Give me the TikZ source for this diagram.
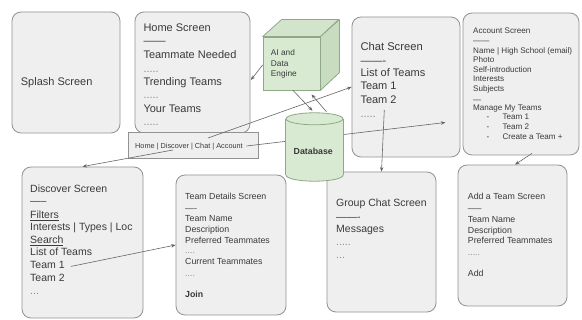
\documentclass[tikz,border=0pt]{standalone}
\usepackage{fontspec}
\setmainfont{Liberation Sans}
\usetikzlibrary{arrows.meta,calc}
\definecolor{boxfill}{HTML}{EFEFEF}
\definecolor{boxline}{HTML}{929292}
\definecolor{gfill}{HTML}{D9EAD3}
\definecolor{gtop}{HTML}{D2E4CB}
\definecolor{gside}{HTML}{C8DCC0}
\definecolor{gline}{HTML}{8FA888}
\definecolor{txt}{HTML}{3A3A3A}
\definecolor{dotc}{HTML}{8A8A8A}
\definecolor{arr}{HTML}{666666}
\newcommand\fsz[1]{\fontsize{#1}{#1}\selectfont}
\begin{document}
\begin{tikzpicture}[x=1pt,y=-1pt,
  screen/.style={draw=boxline, fill=boxfill, line width=0.8pt, rounded corners=9pt, inner sep=0pt},
  navbar/.style={draw=boxline, fill=boxfill, line width=0.8pt, inner sep=0pt},
  aiface/.style={draw=gline, fill=gfill, line width=0.8pt, inner sep=0pt},
  lbl/.style={inner sep=0pt, anchor=base west, text=txt},
  dotl/.style={inner sep=0pt, anchor=base west, text=dotc},
  conn/.style={draw=arr, line width=0.6pt, -{Stealth[length=4.5pt,width=3.5pt]}},
  dbline/.style={draw=gline, line width=0.8pt}
]
\fill[white] (0,0) rectangle (582,320);
\useasboundingbox (0,0) rectangle (582,320);

% screens
\node[screen, minimum width=108pt, minimum height=121pt] (splash) at (66,72.5) {};
\node[screen, minimum width=115pt, minimum height=121pt] (home) at (192.5,72.5) {};
\node[screen, minimum width=108pt, minimum height=140pt] (chat) at (406,87) {};
\node[screen, minimum width=116pt, minimum height=142pt] (account) at (521,84) {};
\node[screen, minimum width=121pt, minimum height=151pt] (discover) at (82.5,242.5) {};
\node[screen, minimum width=110pt, minimum height=140pt] (details) at (231,245) {};
\node[screen, minimum width=109pt, minimum height=140pt] (group) at (381.5,242) {};
\node[screen, minimum width=109pt, minimum height=141pt] (addteam) at (512.5,235.5) {};
\node[navbar, minimum width=130pt, minimum height=26pt] (nav) at (193,145) {};

% cube
\node[aiface, minimum width=57pt, minimum height=53pt] (ai) at (291.5,63.5) {};
\filldraw[draw=gline, fill=gtop, line width=0.8pt, line join=round] (ai.north west) -- ++(19,-17) -- ++(57,0) -- (ai.north east) -- cycle;
\filldraw[draw=gline, fill=gside, line width=0.8pt, line join=round] (ai.north east) -- ++(19,-17) -- ++(0,53) -- (ai.south east) -- cycle;
\node[lbl, font=\fsz{8.3}] (ai1) at (270.7,56) {AI and};
\node[lbl, font=\fsz{8.3}] (ai2) at (270.7,66.7) {Data};
\node[lbl, font=\fsz{8.3}] (ai3) at (270.7,76.7) {Engine};

% database placeholder
\node[inner sep=0pt, minimum width=57pt, minimum height=68pt] (db) at (314.5,147) {};

% splash
\node[lbl, font=\fsz{11}] (splasht) at (20.7,86) {Splash Screen};

% home
\node[lbl, font=\fsz{11}] (h1) at (143.3,32) {Home Screen};
\node[lbl, font=\fsz{11}] (hs) at (143.3,45) {------};
\node[lbl, font=\fsz{11}] (h2) at (143.3,59) {Teammate Needed};
\node[dotl, font=\fsz{11}] (hd1) at (143.3,72.5) {.....};
\node[lbl, font=\fsz{11}] (h3) at (143.3,86) {Trending Teams};
\node[dotl, font=\fsz{11}] (hd2) at (143.3,99) {.....};
\node[lbl, font=\fsz{11}] (h4) at (143.3,113) {Your Teams};
\node[dotl, font=\fsz{11}] (hd3) at (143.3,125.5) {.....};
\node[lbl, font=\fsz{7.3}] (navt) at (135,149) {Home | Discover | Chat | Account};

% chat
\node[lbl, font=\fsz{11.2}] (c1) at (360.3,50.7) {Chat Screen};
\node[lbl, font=\fsz{11}] (cs) at (360.3,64.3) {-------};
\node[lbl, font=\fsz{11}] (c2) at (360.3,76.7) {List of Teams};
\node[lbl, font=\fsz{11}] (c3) at (360.3,90) {Team 1};
\node[lbl, font=\fsz{11}] (c4) at (360.3,103.3) {Team 2};
\node[dotl, font=\fsz{11}] (cd) at (360.3,117.8) {.....};

% account
\node[lbl, font=\fsz{8.1}] (a1) at (473,33.3) {Account Screen};
\node[lbl, font=\fsz{8.1}] (as1) at (473,44) {------};
\node[lbl, font=\fsz{8.1}] (a2) at (473,53.3) {Name | High School (email)};
\node[lbl, font=\fsz{8.1}] (a3) at (473,62.7) {Photo};
\node[lbl, font=\fsz{8.1}] (a4) at (473,72.3) {Self-introduction};
\node[lbl, font=\fsz{8.1}] (a5) at (473,81.7) {Interests};
\node[lbl, font=\fsz{8.1}] (a6) at (473,91.3) {Subjects};
\node[lbl, font=\fsz{8.1}] (as2) at (473,102.3) {---};
\node[lbl, font=\fsz{8.1}] (a7) at (473,110.7) {Manage My Teams};
\node[lbl, font=\fsz{8.1}] (a8d) at (486.3,120) {-};
\node[lbl, font=\fsz{8.1}] (a8) at (502.3,120) {Team 1};
\node[lbl, font=\fsz{8.1}] (a9d) at (486.3,129.3) {-};
\node[lbl, font=\fsz{8.1}] (a9) at (502.3,129.3) {Team 2};
\node[lbl, font=\fsz{8.1}] (a10d) at (486.3,139.3) {-};
\node[lbl, font=\fsz{8.1}] (a10) at (502.3,139.3) {Create a Team +};

% discover
\node[lbl, font=\fsz{10.5}] (d1) at (30,192.3) {Discover Screen};
\node[lbl, font=\fsz{10.5}] (ds) at (30,204.8) {-----};
\node[lbl, font=\fsz{10.5}] (d2) at (30,218.3) {\underline{Filters}};
\node[lbl, font=\fsz{10.5}] (d3) at (30,230.7) {Interests | Types | Loc};
\node[lbl, font=\fsz{10.5}] (d4) at (30,243.3) {\underline{Search}};
\node[lbl, font=\fsz{10.5}] (d5) at (30,256) {List of Teams};
\node[lbl, font=\fsz{10.5}] (dteam1) at (30,269) {Team 1};
\node[lbl, font=\fsz{10.5}] (d7) at (30,281.7) {Team 2};
\node[dotl, font=\fsz{10.5}] (dd) at (30,294.5) {...};

% team details
\node[lbl, font=\fsz{8.8}] (t1) at (185,199.3) {Team Details Screen};
\node[lbl, font=\fsz{8.8}] (ts) at (185,211.6) {----};
\node[lbl, font=\fsz{8.8}] (t2) at (185,221.7) {Team Name};
\node[lbl, font=\fsz{8.8}] (t3) at (185,232.7) {Description};
\node[lbl, font=\fsz{8.8}] (t4) at (185,243.3) {Preferred Teammates};
\node[dotl, font=\fsz{8.8}] (td1) at (185,253.8) {....};
\node[lbl, font=\fsz{8.8}] (t5) at (185,265) {Current Teammates};
\node[dotl, font=\fsz{8.8}] (td2) at (185,276.2) {....};
\node[lbl, font=\fsz{8.8}\bfseries] (t6) at (185,297.7) {Join};

% group chat
\node[lbl, font=\fsz{10.5}] (g1) at (336,206.7) {Group Chat Screen};
\node[lbl, font=\fsz{10.5}] (gs) at (336,220.5) {-------};
\node[lbl, font=\fsz{10.5}] (g2) at (336,232.7) {Messages};
\node[dotl, font=\fsz{10.5}] (gd1) at (336,245.5) {.....};
\node[dotl, font=\fsz{10.5}] (gd2) at (336,258.8) {...};

% add team
\node[lbl, font=\fsz{8.8}] (n1) at (467.7,200) {Add a Team Screen};
\node[lbl, font=\fsz{8.8}] (ns) at (467.7,212) {-----};
\node[lbl, font=\fsz{8.8}] (n2) at (467.7,222.3) {Team Name};
\node[lbl, font=\fsz{8.8}] (n3) at (467.7,233.3) {Description};
\node[lbl, font=\fsz{8.8}] (n4) at (467.7,243.3) {Preferred Teammates};
\node[dotl, font=\fsz{8.8}] (nd) at (467.7,255.5) {.....};
\node[lbl, font=\fsz{8.8}] (n5) at (467.7,276.7) {Add};

% connectors
\draw[conn] ($(ai.west)+(0,1.5)$) -- ($(home.east)+(0.5,7.5)$);
\draw[conn] ($(ai.south)+(1.5,0)$) -- ($(db.north)+(-2,-2)$);
\draw[conn] ($(db.north)+(12,-1)$) -- ($(ai.south)+(20,4)$);
\draw[conn] ($(nav.center)+(15,-7)$) -- (chat.west);
\draw[conn] ($(nav.east)+(-12,1)$) -- ($(chat.east)+(-15,35.5)$);
\draw[conn] ($(nav.center)+(-20,5)$) -- (discover.north);
\draw[conn] ($(chat.center)+(-21.7,23)$) -- (group.north);
\draw[conn] ($(account.south)+(11,-2)$) -- ($(addteam.north)+(2.5,0)$);
\draw[conn] ($(dteam1.east)+(6,1)$) -- (details.west);

% database cylinder (drawn over the account connector)
\filldraw[dbline, fill=gfill] ($(db.south)+(0,-6)$) ellipse [x radius=28.5pt, y radius=6pt];
\fill[gfill] ($(db.north west)+(0,6)$) rectangle ($(db.south east)+(0,-6)$);
\draw[dbline] ($(db.north west)+(0,6)$) -- ($(db.south west)+(0,-6)$);
\draw[dbline] ($(db.north east)+(0,6)$) -- ($(db.south east)+(0,-6)$);
\filldraw[dbline, fill=gfill] ($(db.north)+(0,6)$) ellipse [x radius=28.5pt, y radius=6pt];
\node[inner sep=0pt, anchor=base, text=txt, font=\fsz{8.8}\bfseries] (dbt) at (313.3,154.3) {Database};
\end{tikzpicture}
\end{document}
